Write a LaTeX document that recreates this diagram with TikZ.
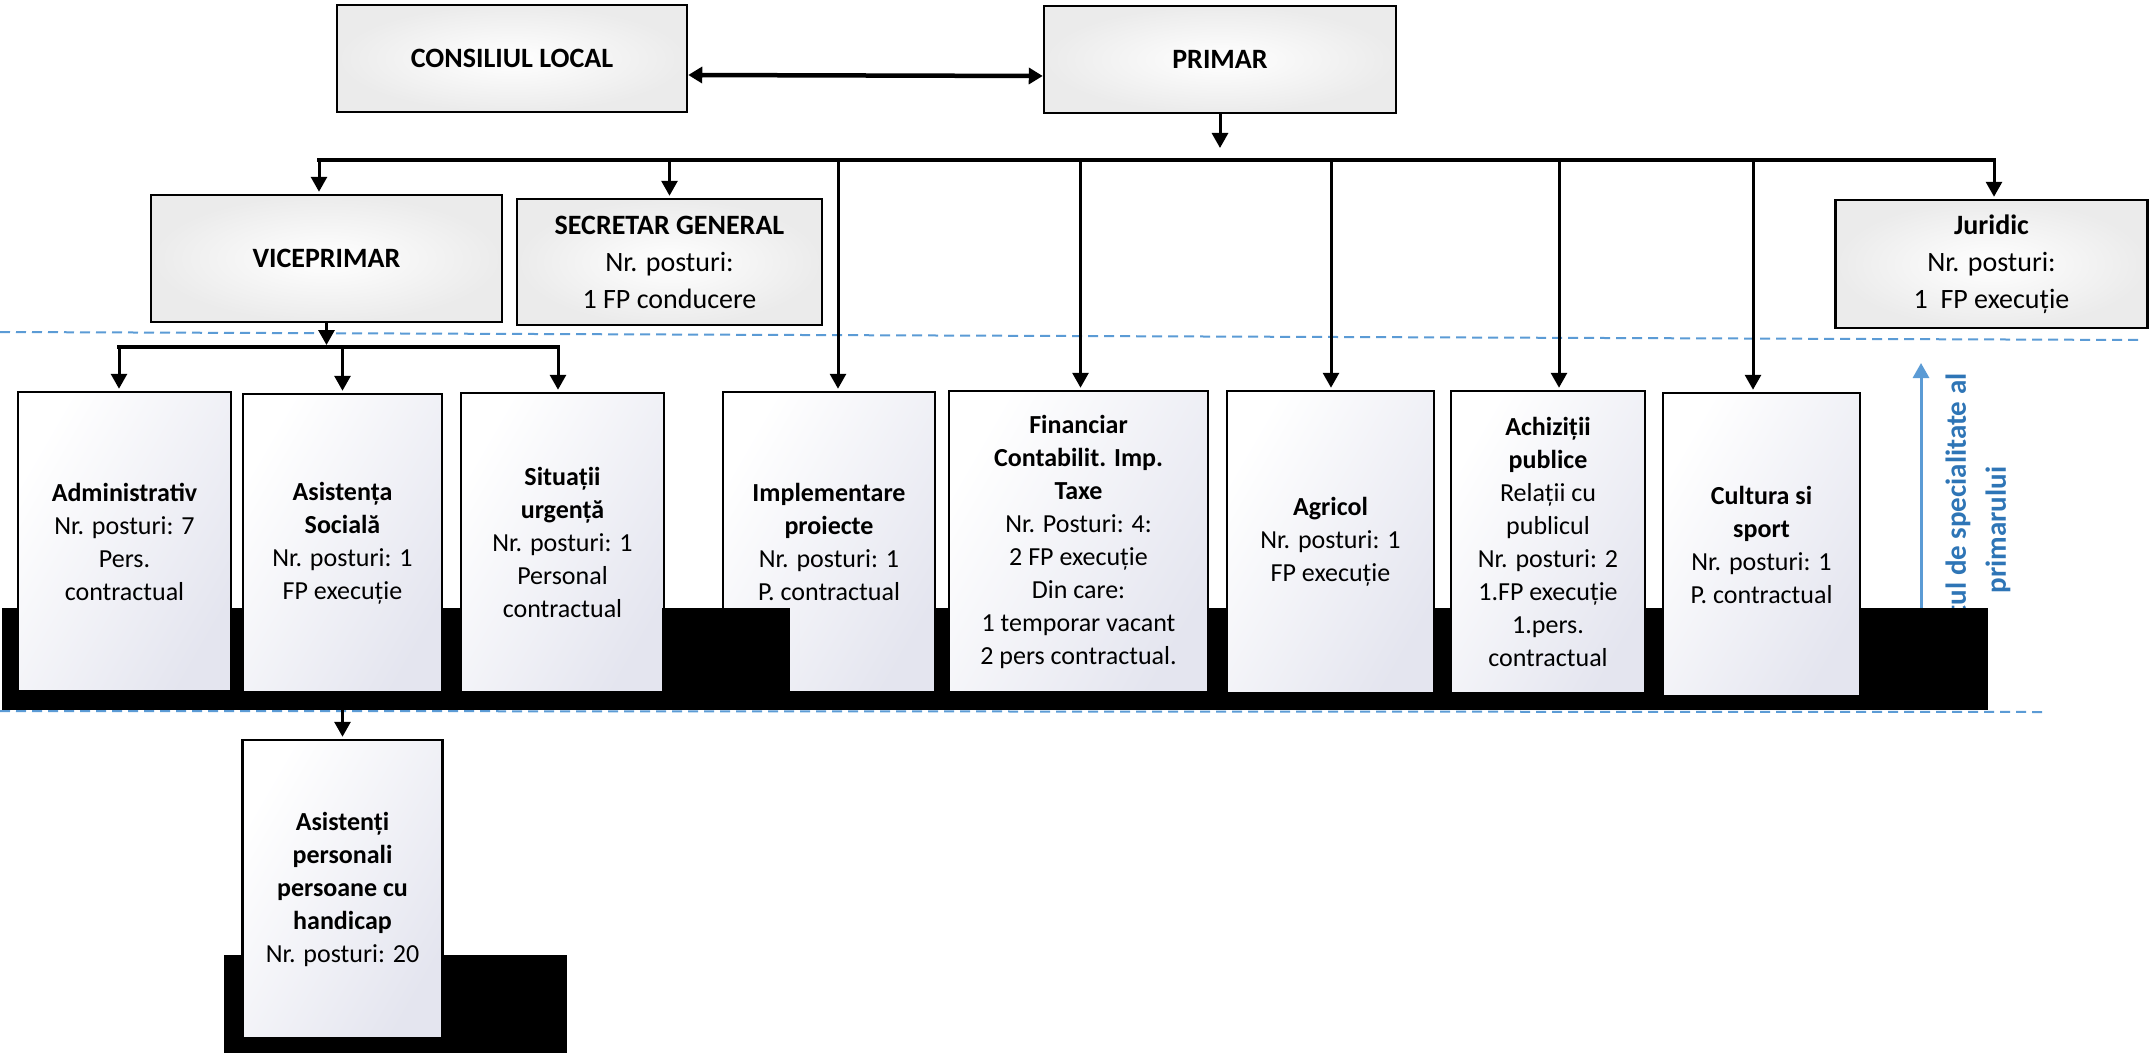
\documentclass[tikz,border=0pt]{standalone}
\usepackage{fontspec}
\setmainfont{Carlito}
\usepackage{tikz}
\usetikzlibrary{positioning,arrows.meta}
\definecolor{dashblue}{HTML}{5B9BD5}
\definecolor{textblue}{HTML}{2E75B6}
\definecolor{lav}{HTML}{E4E5EF}
\definecolor{paper}{HTML}{EBEBEB}

\begin{document}
\begin{tikzpicture}[x=1pt,y=-1pt,
    topbox/.style={draw=black, line width=2.5pt, inner color=white, outer color=paper,
      align=center, font=\fontsize{28}{37}\selectfont},
    dept/.style={draw=black, line width=2.5pt, left color=white, right color=lav,
      shading angle=60, align=center, font=\fontsize{26}{33}\selectfont},
    arr/.style={-{Triangle[width=16pt,length=15pt]}, line width=3pt, shorten >=2pt},
    link/.style={{Triangle[width=16pt,length=14pt]}-{Triangle[width=16pt,length=14pt]}, line width=4.5pt},
    bus/.style={line width=4pt, line cap=rect},
    sep/.style={dashblue, line width=2pt, dash pattern=on 10pt off 6pt}]
  \useasboundingbox (0,0) rectangle (2150,1054);

  % separators
  \draw[sep] (0,332) -- (2140,340);
  \draw[sep] (0,711) -- (2045,712);

  % side label
  \coordinate (aptop) at (1921,363);
  \coordinate (apbot) at (1921,640);
  \draw[-{Triangle[width=16pt,length=15pt]}, dashblue, line width=3pt] (apbot) -- (aptop);
  \node[rotate=90, text=textblue, align=center, font=\bfseries\fontsize{29}{40}\selectfont]
    (aparat) at (1978,530) {Aparatul de specialitate al\\primarului};

  % black bands
  \fill (2,608) rectangle (1988,710);
  \fill (224,955) rectangle (567,1053);

  % top level
  \node[topbox, minimum width=350pt, minimum height=107pt] (cl) at (512,58.5) {\textbf{CONSILIUL LOCAL}};
  \node[topbox, minimum width=352pt, minimum height=107pt] (primar) at (1220,59.5) {\textbf{PRIMAR}};
  \node[topbox, minimum width=351pt, minimum height=127pt] (vice) at (326.5,258.5) {\textbf{VICEPRIMAR}};
  \node[topbox, minimum width=305pt, minimum height=126pt] (secretar) at (669.5,262)
    {\textbf{SECRETAR GENERAL}\\Nr. posturi:\\1 FP conducere};
  \node[topbox, minimum width=312pt, minimum height=128pt] (juridic) at (1991.5,264)
    {\textbf{Juridic}\\Nr. posturi:\\1~~FP execuție};

  % departments
  \node[dept, minimum width=213pt, minimum height=299pt] (admin) at (124.5,541.5)
    {\textbf{Administrativ}\\Nr. posturi: 7\\Pers.\\contractual};
  \node[dept, minimum width=199pt, minimum height=298pt] (asist) at (342.5,543)
    {\textbf{Asistența}\\\textbf{Socială}\\Nr. posturi: 1\\FP execuție};
  \node[dept, minimum width=203pt, minimum height=299pt] (situatii) at (562.5,542.5)
    {\textbf{Situații}\\\textbf{urgență}\\Nr. posturi: 1\\Personal\\contractual};
  \node[dept, minimum width=212pt, minimum height=300pt] (implem) at (829,542)
    {\textbf{Implementare}\\\textbf{proiecte}\\Nr. posturi: 1\\P. contractual};
  \node[dept, minimum width=259pt, minimum height=301pt] (financiar) at (1078.5,541.5)
    {\textbf{Financiar}\\\textbf{Contabilit. Imp.}\\\textbf{Taxe}\\Nr. Posturi: 4:\\2 FP execuție\\Din care:\\1 temporar vacant\\2 pers contractual.};
  \node[dept, minimum width=207pt, minimum height=302pt] (agricol) at (1330.5,542)
    {\textbf{Agricol}\\Nr. posturi: 1\\FP execuție};
  \node[dept, minimum width=194pt, minimum height=302pt] (achizitii) at (1548,542)
    {\textbf{Achiziții}\\\textbf{publice}\\Relații cu\\publicul\\Nr. posturi: 2\\1.FP execuție\\1.pers.\\contractual};
  \node[dept, minimum width=197pt, minimum height=303pt] (cultura) at (1761.5,544.5)
    {\textbf{Cultura si}\\\textbf{sport}\\Nr. posturi: 1\\P. contractual};
  \node[dept, minimum width=200pt, minimum height=298pt] (asistenti) at (342.5,889)
    {\textbf{Asistenți}\\\textbf{personali}\\\textbf{persoane cu}\\\textbf{handicap}\\Nr. posturi: 20};

  \fill (662,608) rectangle (790,710);

  % connectors
  \draw[link] ([yshift=-16.5pt]cl.east) -- ([yshift=-16.5pt]primar.west);
  \coordinate (pdrop) at (1220,150);
  \draw[arr] (primar.south) -- (pdrop);
  \coordinate (busL) at (319,160);
  \coordinate (busR) at (1994,160);
  \draw[bus] (busL) -- (busR);
  \foreach \n/\s in {vice/-7.5pt,secretar/0pt,implem/9pt,financiar/2pt,agricol/0.5pt,achizitii/11pt,cultura/-8.5pt,juridic/2.5pt}
    \draw[arr] ([xshift=\s]\n.north |- busL) -- ([xshift=\s]\n.north);

  \coordinate (subL) at (119,347);
  \coordinate (subR) at (558,347);
  \draw[arr] (vice.south) -- (vice.south |- subL);
  \draw[bus, line width=3.5pt] (subL) -- (subR);
  \foreach \n/\s in {admin/-5.5pt,asist/0pt,situatii/-4.5pt}
    \draw[arr] ([xshift=\s]\n.north |- subL) -- ([xshift=\s]\n.north);
  \draw[arr] (asist.south) -- (asistenti.north);
\end{tikzpicture}
\end{document}
